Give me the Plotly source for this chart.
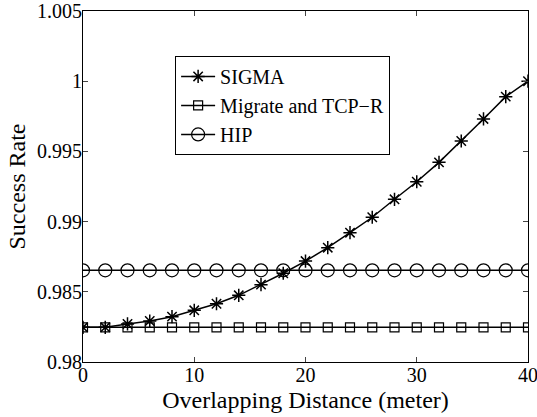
import plotly.graph_objects as go

distance = [0, 2, 4, 6, 8, 10, 12, 14, 16, 18, 20, 22, 24, 26, 28, 30, 32, 34, 36, 38, 40]
sigma = [0.98247, 0.98247, 0.98271, 0.98292, 0.98323, 0.98368, 0.98415, 0.98475, 0.98551,
         0.98632, 0.98719, 0.98814, 0.98921, 0.99031, 0.99159, 0.99284, 0.99422, 0.99574,
         0.99731, 0.99890, 1.00000]
migrate = [0.98247] * len(distance)
hip = [0.98653] * len(distance)

x_ticks = [0, 10, 20, 30, 40]
y_ticks = [0.98, 0.985, 0.99, 0.995, 1.0, 1.005]
y_ticktext = ["0.98", "0.985", "0.99", "0.995", "1", "1.005"]

font = "Liberation Serif"

fig = go.Figure()
fig.add_trace(go.Scatter(x=distance, y=sigma, name="SIGMA", mode="lines+markers",
                         line=dict(color="black", width=1.5),
                         marker=dict(symbol="asterisk-open", size=11, color="black",
                                     line=dict(color="black", width=1.5))))
fig.add_trace(go.Scatter(x=distance, y=migrate, name="Migrate and TCP\u2212R", mode="lines+markers",
                         line=dict(color="black", width=1.5),
                         marker=dict(symbol="square-open", size=9, color="black",
                                     line=dict(color="black", width=1.2))))
fig.add_trace(go.Scatter(x=distance, y=hip, name="HIP", mode="lines+markers",
                         line=dict(color="black", width=1.5),
                         marker=dict(symbol="circle-open", size=13, color="black",
                                     line=dict(color="black", width=1.2))))

fig.update_layout(
    template="none",
    width=537, height=417,
    margin=dict(l=83, r=9, t=11, b=55),
    paper_bgcolor="white", plot_bgcolor="white",
    font=dict(family=font, size=20, color="black"),
    showlegend=True,
    legend=dict(x=0.207, y=0.872, xanchor="left", yanchor="top",
                bordercolor="black", borderwidth=1, bgcolor="white",
                font=dict(family=font, size=20), tracegroupgap=0,
                itemwidth=34),
    xaxis=dict(range=[0, 40], tickvals=x_ticks, ticks="inside", ticklen=5,
               showline=True, linecolor="black", linewidth=1, mirror="ticks",
               showgrid=False, zeroline=False, automargin=False,
               ticklabelstandoff=-5, ticklabeloverflow="allow",
               title=dict(text="Overlapping Distance (meter)", standoff=6,
                          font=dict(family=font, size=24)),
               tickfont=dict(family=font, size=20)),
    yaxis=dict(range=[0.98, 1.005], tickvals=y_ticks, ticktext=y_ticktext,
               ticks="inside", ticklen=5,
               showline=True, linecolor="black", linewidth=1, mirror="ticks",
               showgrid=False, zeroline=False, automargin=False,
               ticklabelstandoff=-4, ticklabeloverflow="allow",
               title=dict(text="Success Rate", standoff=4,
                          font=dict(family=font, size=24)),
               tickfont=dict(family=font, size=20)),
)

fig.write_html("out.html", config={"displayModeBar": False},
               post_script="document.body.style.margin='0px';")
